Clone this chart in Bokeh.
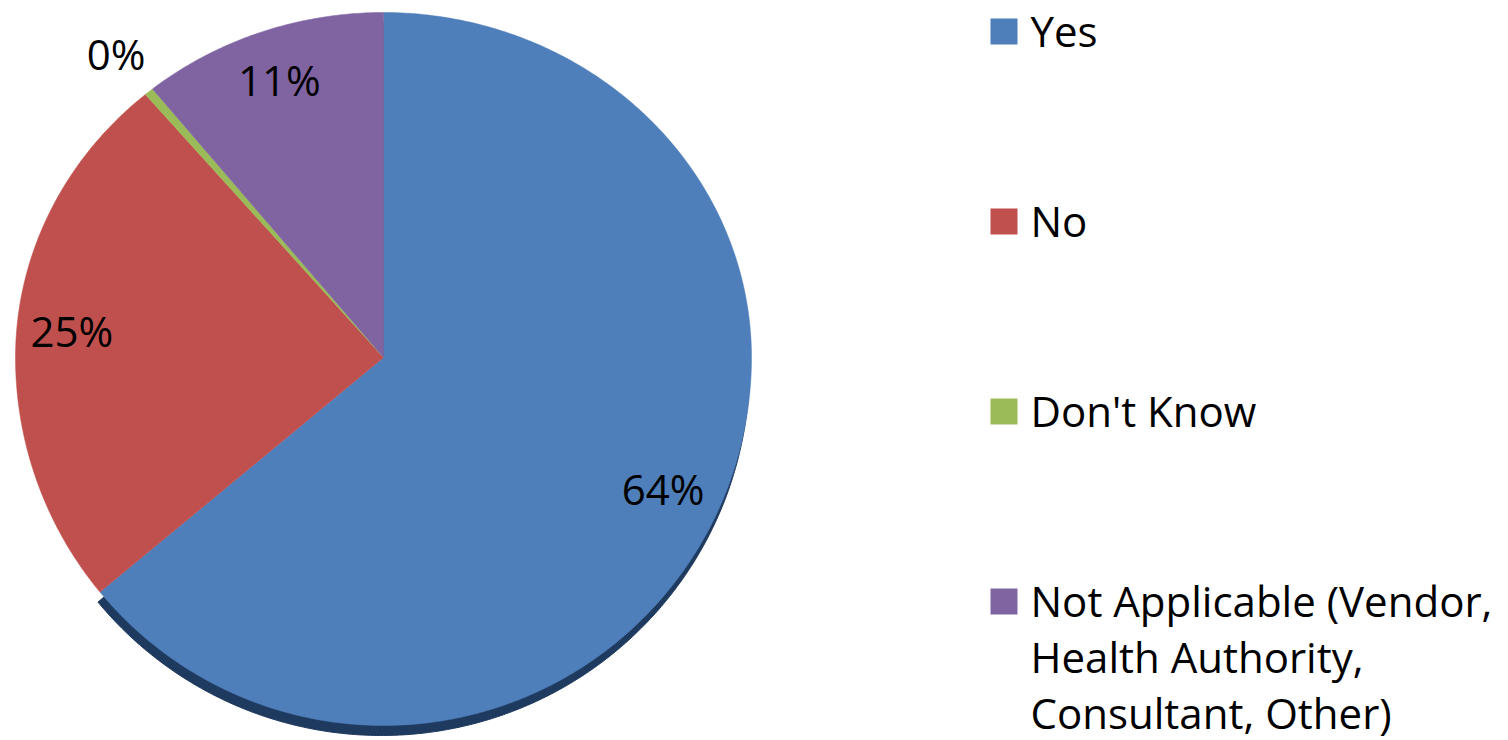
import numpy as np
from bokeh.plotting import figure
from bokeh.models import Range1d
from bokeh.core.properties import value
from bokeh.embed import file_html
from bokeh.resources import INLINE

# ---- data ----
categories = ["Yes", "No", "Don't Know",
              "Not Applicable (Vendor,\nHealth Authority,\nConsultant, Other)"]
percents = [64.0, 24.8, 0.4, 10.8]
colors = ["#4F7FBA", "#C0504D", "#9BBB59", "#8064A2"]

# ---- geometry / style ----
W, H = 1508, 740
FONT = "Open Sans"
TXT_SHIFT = 16
cx, cy = 383.0, -357.0
rx, ry_top, ry_bot = 368.0, 345.0, 368.0
label_r = [0.84, 0.85, 1.14, 0.85]


def ell(theta):
    s = np.sin(theta)
    ry = np.where(s >= 0, ry_top, ry_bot)
    return cx + rx * np.cos(theta), cy + ry * s


p = figure(width=W, height=H, output_backend="svg", toolbar_location=None,
           x_range=Range1d(0, W), y_range=Range1d(-H, 0),
           x_axis_location=None, y_axis_location=None, min_border=0)
p.grid.visible = False
p.outline_line_color = None
p.background_fill_color = "white"

total = sum(percents)
start = np.pi / 2
xs, ys, mids = [], [], []
for v in percents:
    span = 2 * np.pi * v / total
    th = np.linspace(start, start - span, max(4, int(np.degrees(span) * 2)))
    ex, ey = ell(th)
    xs.append([cx] + list(ex))
    ys.append([cy] + list(ey))
    mids.append(start - span / 2)
    start -= span

# shadow under the first slice
p.patch([x - 2 for x in xs[0]], [y - 10 for y in ys[0]], fill_color="#1F3A5F",
        line_color="#1F3A5F", line_width=1)

p.patches(xs, ys, fill_color=colors, line_color=colors, line_width=0.5)

# data labels
lx, ly, lt = [], [], []
for v, m, f in zip(percents, mids, label_r):
    s = np.sin(m)
    ry = ry_top if s >= 0 else ry_bot
    lx.append(cx + f * rx * np.cos(m))
    ly.append(cy + f * ry * s)
    lt.append(f"{round(v)}%")
p.text(x=lx, y=ly, text=lt, text_font=value(FONT), text_font_size="42px",
       text_align="center", text_baseline="alphabetic", y_offset=15 - TXT_SHIFT,
       text_color="black")

# legend
leg_x0, sq_w, sq_h = 1003.5, 27, 26
base0, step, line_h = -46.0, 190.0, 56.0
tx, ty, tt = [], [], []
sqx, sqy = [], []
for i, c in enumerate(categories):
    b = base0 - i * step
    sqx.append(leg_x0)
    sqy.append(b + 15)
    for j, line in enumerate(c.split("\n")):
        tx.append(1030)
        ty.append(b - j * line_h)
        tt.append(line)
p.rect(x=sqx, y=sqy, width=sq_w, height=sq_h, fill_color=colors, line_color=None)
p.text(x=tx, y=ty, text=tt, text_font=value(FONT), text_font_size="42px",
       text_align="left", text_baseline="alphabetic", y_offset=-TXT_SHIFT,
       text_color="black")

open("out.html", "w").write(file_html(p, INLINE))
